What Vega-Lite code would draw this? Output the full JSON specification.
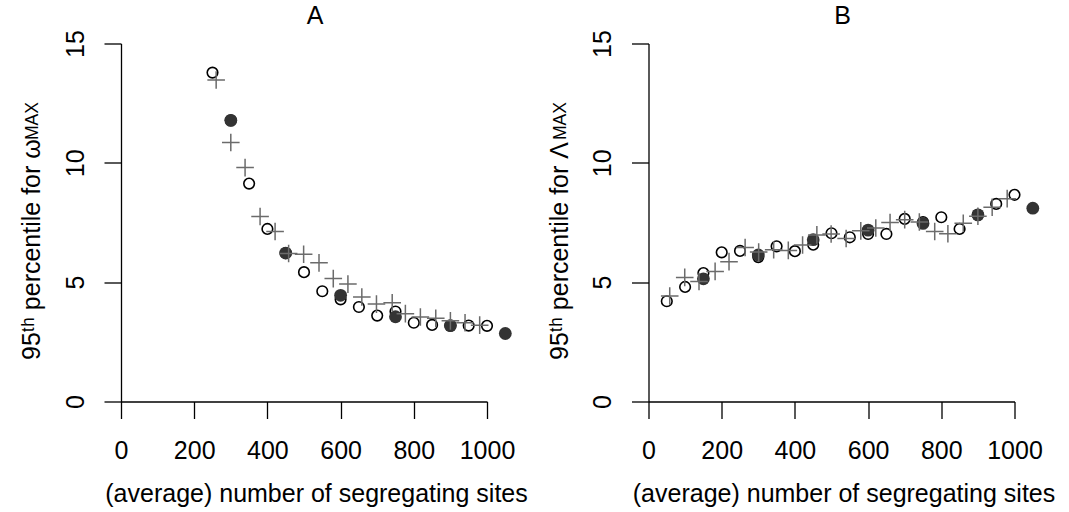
{
  "$schema": "https://vega.github.io/schema/vega-lite/v6.json",
  "padding": {"left": 19, "top": 3.5, "right": 0, "bottom": 0},
  "background": "white",
  "config": {
    "font": "Liberation Sans",
    "view": {"stroke": null},
    "axis": {
      "grid": false,
      "domainColor": "black",
      "domainWidth": 1.3,
      "tickColor": "black",
      "tickWidth": 1.3,
      "tickSize": 17,
      "labelFont": "Liberation Sans",
      "labelFontSize": 25,
      "labelColor": "black",
      "labelOverlap": false,
      "labelFlush": false,
      "titleFont": "Liberation Sans",
      "titleFontSize": 25,
      "titleFontWeight": "normal",
      "titleColor": "black"
    },
    "title": {"font": "Liberation Sans", "fontSize": 25, "fontWeight": "normal", "color": "black"}
  },
  "datasets": {
    "omega": [
      {"series": "s1", "S": 250, "p95": 13.78},
      {"series": "s1", "S": 300, "p95": 11.78},
      {"series": "s1", "S": 350, "p95": 9.13},
      {"series": "s1", "S": 400, "p95": 7.23},
      {"series": "s1", "S": 450, "p95": 6.22},
      {"series": "s1", "S": 500, "p95": 5.42},
      {"series": "s1", "S": 550, "p95": 4.62},
      {"series": "s1", "S": 600, "p95": 4.28},
      {"series": "s1", "S": 650, "p95": 3.96},
      {"series": "s1", "S": 700, "p95": 3.6},
      {"series": "s1", "S": 750, "p95": 3.77},
      {"series": "s1", "S": 800, "p95": 3.3},
      {"series": "s1", "S": 850, "p95": 3.21},
      {"series": "s1", "S": 900, "p95": 3.18},
      {"series": "s1", "S": 950, "p95": 3.18},
      {"series": "s1", "S": 1000, "p95": 3.17},
      {"series": "s2", "S": 300, "p95": 11.78},
      {"series": "s2", "S": 450, "p95": 6.22},
      {"series": "s2", "S": 600, "p95": 4.45},
      {"series": "s2", "S": 750, "p95": 3.55},
      {"series": "s2", "S": 900, "p95": 3.18},
      {"series": "s2", "S": 1050, "p95": 2.85},
      {"series": "s3", "S": 260, "p95": 13.47},
      {"series": "s3", "S": 300, "p95": 10.85},
      {"series": "s3", "S": 339, "p95": 9.8},
      {"series": "s3", "S": 380, "p95": 7.75},
      {"series": "s3", "S": 421, "p95": 7.12},
      {"series": "s3", "S": 458, "p95": 6.2},
      {"series": "s3", "S": 499, "p95": 6.17},
      {"series": "s3", "S": 541, "p95": 5.81},
      {"series": "s3", "S": 580, "p95": 5.15},
      {"series": "s3", "S": 620, "p95": 4.92},
      {"series": "s3", "S": 658, "p95": 4.38},
      {"series": "s3", "S": 698, "p95": 4.08},
      {"series": "s3", "S": 741, "p95": 4.14},
      {"series": "s3", "S": 777, "p95": 3.68},
      {"series": "s3", "S": 818, "p95": 3.54},
      {"series": "s3", "S": 860, "p95": 3.49},
      {"series": "s3", "S": 900, "p95": 3.38},
      {"series": "s3", "S": 940, "p95": 3.3},
      {"series": "s3", "S": 980, "p95": 3.2}
    ],
    "lambda": [
      {"series": "s1", "S": 50, "p95": 4.2},
      {"series": "s1", "S": 100, "p95": 4.8},
      {"series": "s1", "S": 150, "p95": 5.38},
      {"series": "s1", "S": 200, "p95": 6.25},
      {"series": "s1", "S": 250, "p95": 6.31},
      {"series": "s1", "S": 300, "p95": 6.05},
      {"series": "s1", "S": 350, "p95": 6.5},
      {"series": "s1", "S": 400, "p95": 6.3},
      {"series": "s1", "S": 450, "p95": 6.57},
      {"series": "s1", "S": 500, "p95": 7.05},
      {"series": "s1", "S": 550, "p95": 6.88},
      {"series": "s1", "S": 600, "p95": 7.02},
      {"series": "s1", "S": 650, "p95": 7.02},
      {"series": "s1", "S": 700, "p95": 7.65},
      {"series": "s1", "S": 750, "p95": 7.52},
      {"series": "s1", "S": 800, "p95": 7.72},
      {"series": "s1", "S": 850, "p95": 7.23},
      {"series": "s1", "S": 900, "p95": 7.82},
      {"series": "s1", "S": 950, "p95": 8.28},
      {"series": "s1", "S": 1000, "p95": 8.66},
      {"series": "s2", "S": 150, "p95": 5.14},
      {"series": "s2", "S": 300, "p95": 6.14},
      {"series": "s2", "S": 450, "p95": 6.78},
      {"series": "s2", "S": 600, "p95": 7.18},
      {"series": "s2", "S": 750, "p95": 7.46},
      {"series": "s2", "S": 900, "p95": 7.82},
      {"series": "s2", "S": 1050, "p95": 8.1},
      {"series": "s3", "S": 58, "p95": 4.42},
      {"series": "s3", "S": 99, "p95": 5.2},
      {"series": "s3", "S": 138, "p95": 5.03},
      {"series": "s3", "S": 182, "p95": 5.45},
      {"series": "s3", "S": 220, "p95": 5.86},
      {"series": "s3", "S": 264, "p95": 6.45},
      {"series": "s3", "S": 301, "p95": 6.26},
      {"series": "s3", "S": 342, "p95": 6.36},
      {"series": "s3", "S": 382, "p95": 6.33},
      {"series": "s3", "S": 421, "p95": 6.56},
      {"series": "s3", "S": 460, "p95": 6.98},
      {"series": "s3", "S": 499, "p95": 7.02},
      {"series": "s3", "S": 540, "p95": 6.83},
      {"series": "s3", "S": 580, "p95": 7.15},
      {"series": "s3", "S": 621, "p95": 7.27},
      {"series": "s3", "S": 660, "p95": 7.5},
      {"series": "s3", "S": 700, "p95": 7.62},
      {"series": "s3", "S": 740, "p95": 7.52},
      {"series": "s3", "S": 782, "p95": 7.12},
      {"series": "s3", "S": 818, "p95": 7.03},
      {"series": "s3", "S": 860, "p95": 7.47},
      {"series": "s3", "S": 900, "p95": 7.76},
      {"series": "s3", "S": 939, "p95": 8.14},
      {"series": "s3", "S": 980, "p95": 8.5}
    ]
  },
  "hconcat": [
    {
      "width": 366,
      "height": 358,
      "title": {"text": "A", "dx": 11, "offset": 0.5},
      "data": {"name": "omega"},
      "layer": [
        {
          "transform": [{"filter": "datum.series === 's1'"}],
          "mark": {"type": "point", "shape": "circle", "filled": false, "stroke": "black", "strokeWidth": 1.6, "size": 112, "opacity": 1},
          "encoding": {
            "x": {"field": "S", "type": "quantitative", "scale": {"domain": [0, 1000], "nice": false},
                  "axis": {"values": [0, 200, 400, 600, 800, 1000], "format": "d", "title": "(average) number of segregating sites",
                           "titleX": 195, "titleY": 99.5, "titleBaseline": "alphabetic", "titleAlign": "center", "labelPadding": 20}},
            "y": {"field": "p95", "type": "quantitative", "scale": {"domain": [0, 15], "nice": false},
                  "axis": {"values": [0, 5, 10, 15], "format": "d", "labelAngle": 270, "labelAlign": "center", "labelBaseline": "alphabetic", "labelPadding": 20.7,
                           "title": "95ᵗʰ percentile for ω", "titleAngle": 270, "titleAlign": "left", "titleBaseline": "alphabetic",
                           "titleX": -81.2, "titleY": 316}}
          }
        },
        {
          "transform": [{"filter": "datum.series === 's2'"}],
          "mark": {"type": "point", "shape": "circle", "filled": true, "color": "#333333", "size": 164, "opacity": 1},
          "encoding": {
            "x": {"field": "S", "type": "quantitative"},
            "y": {"field": "p95", "type": "quantitative", "axis": null}
          }
        },
        {
          "transform": [{"filter": "datum.series === 's3'"}],
          "mark": {"type": "point", "shape": "M-1,0H1M0,-1V1", "filled": false, "stroke": "#6b6b6b", "strokeWidth": 1.5, "size": 310, "opacity": 1},
          "encoding": {
            "x": {"field": "S", "type": "quantitative"},
            "y": {"field": "p95", "type": "quantitative",
                  "axis": {"orient": "right", "labels": false, "ticks": false, "domain": false, "title": "MAX", "titleFontSize": 17.5,
                           "titleAngle": 270, "titleAlign": "left", "titleBaseline": "alphabetic", "titleX": -449.2, "titleY": 96}}
          }
        }
      ],
      "resolve": {"axis": {"y": "independent"}}
    },
    {
      "width": 366,
      "height": 358,
      "title": {"text": "B", "dx": 11, "offset": 0.5},
      "data": {"name": "lambda"},
      "layer": [
        {
          "transform": [{"filter": "datum.series === 's1'"}],
          "mark": {"type": "point", "shape": "circle", "filled": false, "stroke": "black", "strokeWidth": 1.6, "size": 112, "opacity": 1},
          "encoding": {
            "x": {"field": "S", "type": "quantitative", "scale": {"domain": [0, 1000], "nice": false},
                  "axis": {"values": [0, 200, 400, 600, 800, 1000], "format": "d", "title": "(average) number of segregating sites",
                           "titleX": 195, "titleY": 99.5, "titleBaseline": "alphabetic", "titleAlign": "center", "labelPadding": 20}},
            "y": {"field": "p95", "type": "quantitative", "scale": {"domain": [0, 15], "nice": false},
                  "axis": {"values": [0, 5, 10, 15], "format": "d", "labelAngle": 270, "labelAlign": "center", "labelBaseline": "alphabetic", "labelPadding": 20.7,
                           "title": "95ᵗʰ percentile for Λ", "titleAngle": 270, "titleAlign": "left", "titleBaseline": "alphabetic",
                           "titleX": -81.2, "titleY": 316}}
          }
        },
        {
          "transform": [{"filter": "datum.series === 's2'"}],
          "mark": {"type": "point", "shape": "circle", "filled": true, "color": "#333333", "size": 164, "opacity": 1},
          "encoding": {
            "x": {"field": "S", "type": "quantitative"},
            "y": {"field": "p95", "type": "quantitative", "axis": null}
          }
        },
        {
          "transform": [{"filter": "datum.series === 's3'"}],
          "mark": {"type": "point", "shape": "M-1,0H1M0,-1V1", "filled": false, "stroke": "#6b6b6b", "strokeWidth": 1.5, "size": 310, "opacity": 1},
          "encoding": {
            "x": {"field": "S", "type": "quantitative"},
            "y": {"field": "p95", "type": "quantitative",
                  "axis": {"orient": "right", "labels": false, "ticks": false, "domain": false, "title": "MAX", "titleFontSize": 17.5,
                           "titleAngle": 270, "titleAlign": "left", "titleBaseline": "alphabetic", "titleX": -449.2, "titleY": 96}}
          }
        }
      ],
      "resolve": {"axis": {"y": "independent"}}
    }
  ],
  "spacing": 161.5,
  "bounds": "flush"
}
